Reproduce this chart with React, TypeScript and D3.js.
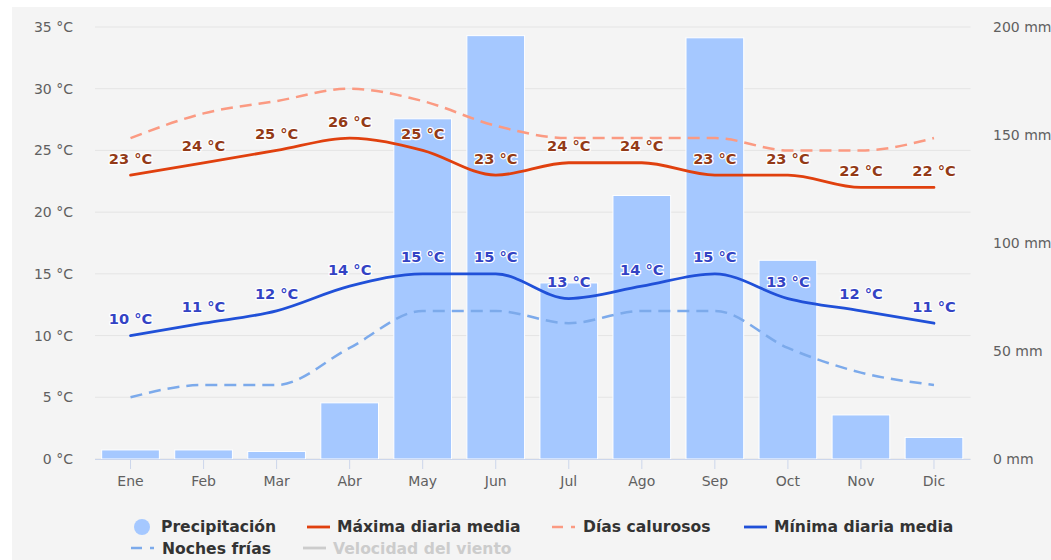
import React from "react";
import * as d3 from "d3";

const months = ["Ene", "Feb", "Mar", "Abr", "May", "Jun", "Jul", "Ago", "Sep", "Oct", "Nov", "Dic"];
const precipitation = [4.2, 4.2, 3.5, 26, 157.5, 196, 81.5, 122, 195, 92, 20.4, 10];
const maxDaily = [23, 24, 25, 26, 25, 23, 24, 24, 23, 23, 22, 22];
const hotDays = [26, 28, 29, 30, 29, 27, 26, 26, 26, 25, 25, 26];
const minDaily = [10, 11, 12, 14, 15, 15, 13, 14, 15, 13, 12, 11];
const coldNights = [5, 6, 6, 9, 12, 12, 11, 12, 12, 9, 7, 6];
const tempTicks = [0, 5, 10, 15, 20, 25, 30, 35];
const rainTicks = [0, 50, 100, 150, 200];

const W = 1051;
const H = 560;
const left = 94;
const right = 970.5;
const top = 27;
const bottom = 459;
const FONT = "'DejaVu Sans', sans-serif";

export default function App() {
  const x = d3.scaleBand<string>().domain(months).range([left, right]).paddingInner(0.21).paddingOuter(0.105);
  const step = (right - left) / months.length;
  const cx = (m: string) => left + step * (months.indexOf(m) + 0.5);
  const yT = d3.scaleLinear().domain([0, 35]).range([bottom, top]);
  const yR = d3.scaleLinear().domain([0, 200]).range([bottom, top]);

  const line = (vals: number[]) =>
    d3
      .line<number>()
      .x((_, i) => cx(months[i]))
      .y((v) => yT(v))
      .curve(d3.curveMonotoneX)(vals) || "";

  const labelStyle = (color: string): React.CSSProperties => ({
    fill: color,
    stroke: "#ffffff",
    strokeWidth: 2.5,
    paintOrder: "stroke",
    strokeLinejoin: "round",
  });

  return (
    <svg width={W} height={H} style={{ position: "absolute", left: 0, top: 0 }} fontFamily={FONT}>
      <rect x={0} y={0} width={W} height={H} fill="#ffffff" />
      <rect x={12} y={7} width={W - 12} height={H - 7} fill="#f4f4f4" />

      {tempTicks.map((t) => (
        <g key={"gt" + t}>
          <line x1={left + 1} x2={right} y1={yT(t)} y2={yT(t)} stroke="#e4e4e4" strokeWidth={1} />
          <text x={73} y={yT(t) + 5} textAnchor="end" fontSize={14} fill="#606060">
            {t} °C
          </text>
        </g>
      ))}
      {rainTicks.map((t) => (
        <text key={"r" + t} x={993} y={yR(t) + 5} textAnchor="start" fontSize={14} fill="#606060">
          {t} mm
        </text>
      ))}

      {months.map((m, i) => (
        <rect
          key={"b" + m}
          x={x(m)}
          y={yR(precipitation[i])}
          width={x.bandwidth()}
          height={bottom - yR(precipitation[i])}
          fill="#a5c8ff"
          stroke="#ffffff"
          strokeWidth={1}
        />
      ))}

      <line x1={left + 1} x2={right} y1={bottom + 0.5} y2={bottom + 0.5} stroke="#ccd6eb" strokeWidth={1} />
      {months.map((m) => (
        <g key={"t" + m}>
          <line x1={cx(m)} x2={cx(m)} y1={bottom} y2={bottom + 10} stroke="#ccd6eb" strokeWidth={1} />
          <text x={cx(m)} y={486} textAnchor="middle" fontSize={14} fill="#606060">
            {m}
          </text>
        </g>
      ))}

      <path d={line(coldNights)} fill="none" stroke="#7caaeb" strokeWidth={2.5} strokeDasharray="12,7" />
      <path d={line(hotDays)} fill="none" stroke="#fb9a82" strokeWidth={2.5} strokeDasharray="12,7" />
      <path d={line(maxDaily)} fill="none" stroke="#e0400e" strokeWidth={2.8} strokeLinecap="round" />
      <path d={line(minDaily)} fill="none" stroke="#2050d8" strokeWidth={2.8} strokeLinecap="round" />

      {months.map((m, i) => (
        <text
          key={"lm" + m}
          x={cx(m)}
          y={yT(maxDaily[i]) - 11.5}
          textAnchor="middle"
          fontSize={14.6}
          fontWeight="bold"
          style={labelStyle("#933a17")}
        >
          {maxDaily[i]} °C
        </text>
      ))}
      {months.map((m, i) => (
        <text
          key={"ln" + m}
          x={cx(m)}
          y={yT(minDaily[i]) - 11.5}
          textAnchor="middle"
          fontSize={14.6}
          fontWeight="bold"
          style={labelStyle("#3343c4")}
        >
          {minDaily[i]} °C
        </text>
      ))}

      <g fontSize={15.6} fontWeight="bold">
        <circle cx={142} cy={527} r={8} fill="#a5c8ff" />
        <text x={161} y={532} fill="#333333">Precipitación</text>

        <line x1={307} x2={330} y1={527} y2={527} stroke="#e0400e" strokeWidth={2.8} />
        <text x={337} y={532} fill="#333333">Máxima diaria media</text>

        <line x1={552} x2={575} y1={527} y2={527} stroke="#fb9a82" strokeWidth={2.5} strokeDasharray="11,8" />
        <text x={583} y={532} fill="#333333">Días calurosos</text>

        <line x1={744} x2={767} y1={527} y2={527} stroke="#2050d8" strokeWidth={2.8} />
        <text x={774} y={532} fill="#333333">Mínima diaria media</text>

        <line x1={131} x2={154} y1={548} y2={548} stroke="#7caaeb" strokeWidth={2.5} strokeDasharray="11,8" />
        <text x={162} y={554} fill="#333333">Noches frías</text>

        <line x1={303} x2={326} y1={548} y2={548} stroke="#cccccc" strokeWidth={2.8} />
        <text x={333} y={554} fill="#cccccc">Velocidad del viento</text>
      </g>
    </svg>
  );
}
